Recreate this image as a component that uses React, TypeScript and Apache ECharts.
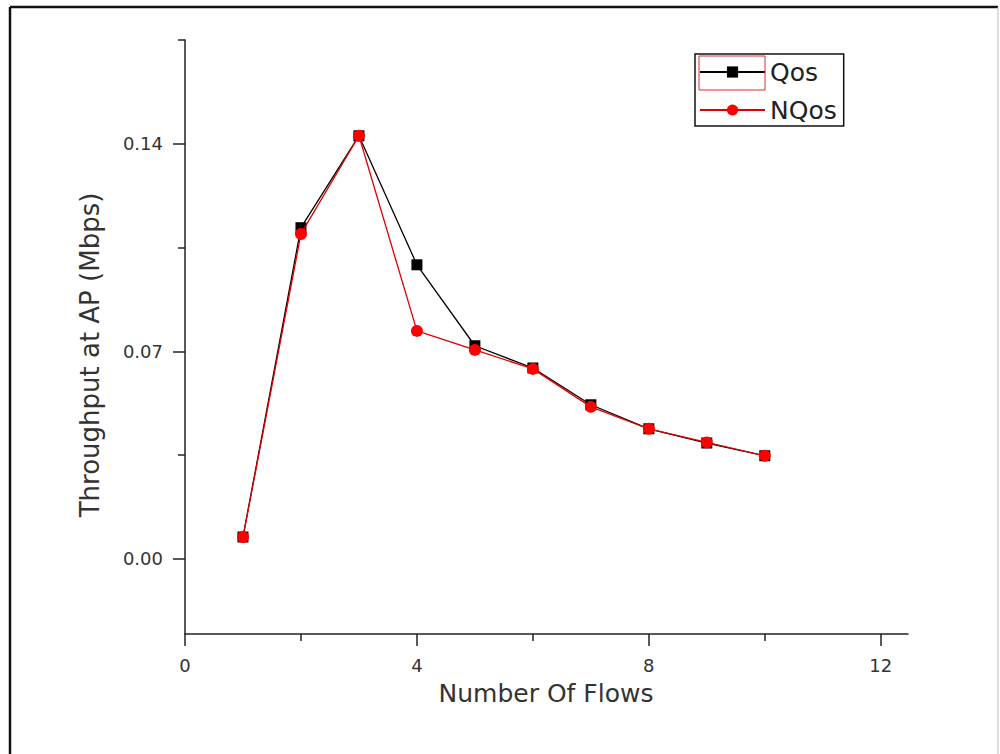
import React, { useEffect, useRef } from "react";
import * as echarts from "echarts";

const flows = [1, 2, 3, 4, 5, 6, 7, 8, 9, 10];
const qosValues = [0.0074, 0.1117, 0.1427, 0.0992, 0.0719, 0.0644, 0.052, 0.0439, 0.0391, 0.0348];
const nqosValues = [0.0074, 0.1096, 0.1427, 0.0769, 0.0705, 0.0641, 0.0513, 0.0439, 0.0393, 0.0348];
const xMajorTicks = [0, 4, 8, 12];
const xMinorTicks = [2, 6, 10];
const yMajorTicks = [0, 0.07, 0.14];
const yMinorTicks = [0.035, 0.105, 0.175];
const seriesNames = ["Qos", "NQos"];
const xTitle = "Number Of Flows";
const yTitle = "Throughput at AP (Mbps)";

const FONT = "DejaVu Sans";
const AXIS_COLOR = "#222";
const TEXT_COLOR = "#333";

export default function App() {
  const ref = useRef<HTMLDivElement>(null);
  useEffect(() => {
    if (!ref.current) return;
    const chart = echarts.init(ref.current, null, { renderer: "svg" });
    const xMin = 0;
    const xMax = 12.47;
    const yMin = -0.0253;
    const yMax = 0.175;
    const axisLine = { show: true, onZero: false, lineStyle: { color: AXIS_COLOR, width: 1.5 } };
    const hiddenLine = { show: false, onZero: false };
    chart.setOption({
      animation: false,
      backgroundColor: "#ffffff",
      grid: { left: 185, top: 40, right: 92, bottom: 120, containLabel: false },
      legend: {
        orient: "vertical",
        left: 695,
        top: 54,
        data: seriesNames,
        itemWidth: 65,
        itemHeight: 14,
        itemGap: 8,
        padding: [3, 7, 1, 4],
        borderColor: "#111",
        borderWidth: 1.5,
        backgroundColor: "#fff",
        textStyle: { fontFamily: FONT, fontSize: 25, color: "#222", lineHeight: 30 },
        selectedMode: false,
      },
      xAxis: [
        {
          type: "value",
          min: xMin,
          max: xMax,
          position: "bottom",
          axisLine,
          splitLine: { show: false },
          axisTick: { show: true, inside: false, length: 12, customValues: xMajorTicks, lineStyle: { color: AXIS_COLOR, width: 1.5 } },
          axisLabel: {
            customValues: xMajorTicks,
            margin: 22,
            fontFamily: FONT,
            fontSize: 18,
            color: TEXT_COLOR,
          },
        },
        {
          type: "value",
          min: xMin,
          max: xMax,
          position: "bottom",
          offset: 0,
          axisLine: hiddenLine,
          splitLine: { show: false },
          axisTick: { show: true, inside: false, length: 7, customValues: xMinorTicks, lineStyle: { color: AXIS_COLOR, width: 1.5 } },
          axisLabel: { show: false },
        },
      ],
      yAxis: [
        {
          type: "value",
          min: yMin,
          max: yMax,
          position: "left",
          axisLine,
          splitLine: { show: false },
          axisTick: { show: true, inside: false, length: 12, customValues: yMajorTicks, lineStyle: { color: AXIS_COLOR, width: 1.5 } },
          axisLabel: {
            customValues: yMajorTicks,
            margin: 22,
            fontFamily: FONT,
            fontSize: 18,
            color: TEXT_COLOR,
            formatter: (v: number) => v.toFixed(2),
          },
        },
        {
          type: "value",
          min: yMin,
          max: yMax,
          position: "left",
          offset: 0,
          axisLine: hiddenLine,
          splitLine: { show: false },
          axisTick: { show: true, inside: false, length: 7, customValues: yMinorTicks, lineStyle: { color: AXIS_COLOR, width: 1.5 } },
          axisLabel: { show: false },
        },
      ],
      series: [
        {
          name: seriesNames[0],
          type: "line",
          data: flows.map((f, i) => [f, qosValues[i]]),
          symbol: "rect",
          symbolSize: 11,
          itemStyle: { color: "#000" },
          lineStyle: { color: "#000", width: 1.3 },
          z: 2,
        },
        {
          name: seriesNames[1],
          type: "line",
          data: flows.map((f, i) => [f, nqosValues[i]]),
          symbol: "circle",
          symbolSize: 12,
          itemStyle: { color: "#ff0000" },
          lineStyle: { color: "#e00000", width: 1.3 },
          z: 3,
        },
      ],
      graphic: [
        { type: "line", shape: { x1: 10, y1: 7, x2: 998, y2: 7 }, style: { stroke: "#111", lineWidth: 2.5 } },
        { type: "line", shape: { x1: 10, y1: 7, x2: 10, y2: 754 }, style: { stroke: "#111", lineWidth: 2.5 } },
        { type: "line", shape: { x1: 998, y1: 7, x2: 998, y2: 754 }, style: { stroke: "#bbb", lineWidth: 1 } },
        {
          type: "text",
          x: 90,
          y: 355,
          rotation: Math.PI / 2,
          style: {
            text: yTitle,
            fontFamily: FONT,
            fontSize: 26,
            fill: TEXT_COLOR,
            textAlign: "center",
            textVerticalAlign: "middle",
          },
        },
        {
          type: "text",
          x: 546,
          y: 693,
          style: {
            text: xTitle,
            fontFamily: FONT,
            fontSize: 25,
            fill: TEXT_COLOR,
            textAlign: "center",
            textVerticalAlign: "middle",
          },
        },
        {
          type: "rect",
          shape: { x: 699, y: 56, width: 66, height: 34 },
          style: { fill: "none", stroke: "#d03030", lineWidth: 1 },
          z: 100,
        },
      ],
    });
    return () => chart.dispose();
  }, []);
  return (
    <div
      ref={ref}
      style={{ position: "absolute", left: 0, top: 0, width: 1000, height: 754 }}
    />
  );
}
